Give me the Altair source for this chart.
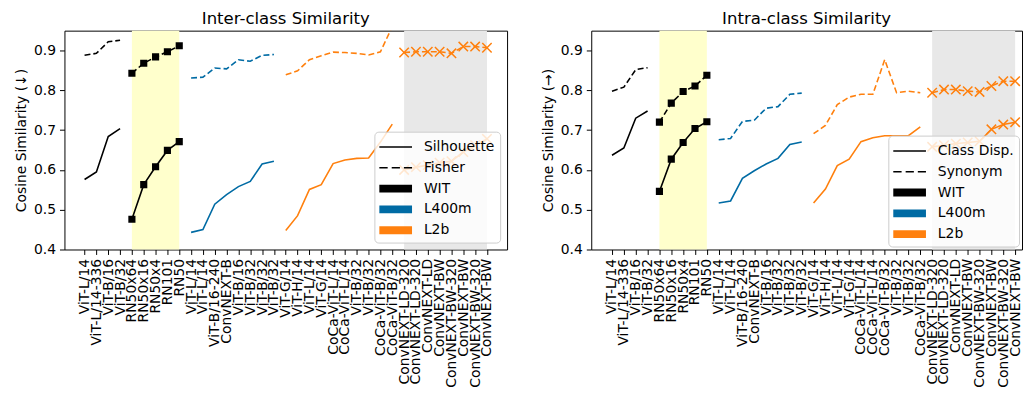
import json
import altair as alt
import pandas as pd

FONT = "DejaVu Sans"
BLUE = "#006BA4"
ORANGE = "#FF800E"

labels_inter = [
    "ViT-L/14", "ViT-L/14-336", "ViT-B/16", "ViT-B/32",
    "RN50x64", "RN50x16", "RN50x4", "RN101", "RN50",
    "ViT-L/14", "ViT-L/14", "ViT-B/16-240", "ConvNEXT-B", "ViT-B/16", "ViT-B/32", "ViT-B/32", "ViT-B/32",
    "ViT-G/14", "ViT-H/14", "ViT-L/14", "ViT-G/14", "CoCa-ViT-L/14", "CoCa-ViT-L/14",
    "ViT-B/32", "ViT-B/32", "CoCa-ViT-B/32", "CoCa-ViT-B/32",
    "ConvNEXT-LD-320", "ConvNEXT-LD-320", "ConvNEXT-LD", "ConvNEXT-BW", "ConvNEXT-BW-320",
    "ConvNEXT-BW", "ConvNEXT-BW-320", "ConvNEXT-BW",
]
labels_intra = [
    "ViT-L/14", "ViT-L/14-336", "ViT-B/16", "ViT-B/32",
    "RN50x64", "RN50x16", "RN50x4", "RN101", "RN50",
    "ViT-L/14", "ViT-L/14", "ViT-B/16-240", "ConvNEXT-B", "ViT-B/16", "ViT-B/32", "ViT-B/32", "ViT-B/32",
    "ViT-G/14", "ViT-H/14", "ViT-L/14", "ViT-G/14", "CoCa-ViT-L/14", "CoCa-ViT-L/14",
    "CoCa-ViT-B/32", "ViT-B/32", "ViT-B/32", "CoCa-ViT-B/32",
    "ConvNEXT-LD-320", "ConvNEXT-LD-320", "ConvNEXT-LD", "ConvNEXT-BW", "ConvNEXT-BW-320",
    "ConvNEXT-BW", "ConvNEXT-BW-320", "ConvNEXT-BW",
]

inter_silhouette = [
    0.576, 0.595, 0.684, 0.704,
    0.476, 0.563, 0.608, 0.649, 0.671,
    0.443, 0.450, 0.514, 0.538, 0.558, 0.571, 0.615, 0.622,
    0.448, 0.485, 0.551, 0.563, 0.616, 0.625, 0.629, 0.630, 0.670, 0.715,
    0.600, 0.607, 0.612, 0.618, 0.622, 0.645, 0.662, 0.678,
]
inter_fisher = [
    0.888, 0.893, 0.922, 0.926,
    0.843, 0.868, 0.884, 0.897, 0.912,
    0.831, 0.833, 0.856, 0.854, 0.877, 0.873, 0.888, 0.890,
    0.839, 0.849, 0.877, 0.887, 0.896, 0.895, 0.893, 0.889, 0.897, 0.960,
    0.895, 0.897, 0.897, 0.897, 0.893, 0.910, 0.910, 0.907,
]
intra_class_disp = [
    0.637, 0.655, 0.730, 0.748,
    0.546, 0.627, 0.669, 0.704, 0.721,
    0.517, 0.522, 0.579, 0.598, 0.615, 0.629, 0.664, 0.670,
    0.517, 0.552, 0.611, 0.627, 0.671, 0.681, 0.686, 0.686, 0.686, 0.708,
    0.658, 0.662, 0.666, 0.669, 0.672, 0.702, 0.714, 0.720,
]
intra_synonym = [
    0.798, 0.808, 0.852, 0.857,
    0.720, 0.768, 0.797, 0.811, 0.838,
    0.676, 0.679, 0.722, 0.725, 0.755, 0.759, 0.790, 0.793,
    0.691, 0.712, 0.764, 0.783, 0.790, 0.790, 0.877, 0.794, 0.798, 0.794,
    0.794, 0.802, 0.802, 0.798, 0.796, 0.811, 0.823, 0.823,
]

datasets = ["WIT"] * 9 + ["L400m"] * 8 + ["L2b"] * 18
groups = ["WIT-a"] * 4 + ["WIT-b"] * 5 + ["L400m"] * 8 + ["L2b-a"] * 10 + ["L2b-b"] * 8
band_start = [4, 27]
band_end = [8, 34]
dataset_names = ["WIT", "L400m", "L2b"]

y_ticks = [0.4, 0.5, 0.6, 0.7, 0.8, 0.9]

# legend handle shapes (unit-square paths, handle ~33px wide at symbolSize 441)
def hbar(x0, x1, half):
    return f"M{x0},{-half}H{x1}V{half}H{x0}Z"

THIN = 0.075
THICK = 0.38
solid_path = hbar(-1, 2.143, THIN)
dash_path = hbar(-1, -0.2, THIN) + hbar(0.19, 0.98, THIN) + hbar(1.36, 2.143, THIN)
thick_path = hbar(-1, 2.143, THICK)
cross_path = "M-1,-1L1,1M-1,1L1,-1"


def panel(title, labels, solid_vals, dashed_vals, solid_name, dashed_name, ytitle, width, xdomain, legend_offset):
    rows = []
    for metric, vals in ((solid_name, solid_vals), (dashed_name, dashed_vals)):
        for i, v in enumerate(vals):
            rows.append(dict(idx=i, val=v, metric=metric, dataset=datasets[i], group=groups[i]))
    df = pd.DataFrame(rows)

    xscale = alt.Scale(domain=xdomain, nice=False, zero=False)
    xaxis = alt.Axis(
        values=list(range(len(labels))),
        labelExpr=json.dumps(labels) + "[datum.value]",
        labelAngle=-90, title=None, grid=False, domain=False,
        labelOverlap=False, labelFlush=False, labelBound=False,
    )
    yscale = alt.Scale(domain=[0.4, 0.95], nice=False, zero=False)
    yaxis = alt.Axis(values=y_ticks, format=".1f", title=ytitle, grid=False, domain=False)
    x = alt.X("idx:Q", scale=xscale, axis=xaxis)
    y = alt.Y("val:Q", scale=yscale, axis=yaxis)

    bands_df = pd.DataFrame({"start": band_start, "end": band_end})
    layers = []
    for k, col in enumerate(["#ffffcc", "#e8e8e8"]):
        layers.append(
            alt.Chart(bands_df.iloc[[k]]).mark_rect(fill=col, opacity=1).encode(
                x=alt.X("start:Q", scale=xscale, axis=xaxis), x2="end:Q"
            )
        )

    for ds, col in zip(dataset_names, ["black", BLUE, ORANGE]):
        for metric, dashed in ((solid_name, False), (dashed_name, True)):
            props = dict(clip=True, color=col, strokeWidth=1.6)
            if dashed:
                props["strokeDash"] = [6, 3]
            layers.append(
                alt.Chart(df)
                .transform_filter((alt.datum.dataset == ds) & (alt.datum.metric == metric))
                .mark_line(**props)
                .encode(x=x, y=y, detail="group:N")
            )

    layers.append(
        alt.Chart(df).transform_filter(alt.datum.group == "WIT-b")
        .mark_point(shape="square", filled=True, size=52, color="black", opacity=1, clip=True)
        .encode(x=x, y=y)
    )
    layers.append(
        alt.Chart(df).transform_filter(alt.datum.group == "L2b-b")
        .mark_point(shape=cross_path, filled=False, size=90, color=ORANGE, strokeWidth=1.5, opacity=1, clip=True)
        .encode(x=x, y=y)
    )

    keys = [solid_name, dashed_name] + dataset_names
    leg_df = pd.DataFrame({"key": keys, "idx": [0] * 5, "val": [0.5] * 5})
    layers.append(
        alt.Chart(leg_df).transform_filter("false")
        .mark_point(filled=True, opacity=1)
        .encode(
            x=x, y=y,
            color=alt.Color("key:N", scale=alt.Scale(domain=keys, range=["black", "black", "black", BLUE, ORANGE]),
                            legend=alt.Legend(title=None, offset=legend_offset)),
            shape=alt.Shape("key:N", scale=alt.Scale(domain=keys, range=[solid_path, dash_path, thick_path, thick_path, thick_path]),
                            legend=alt.Legend(title=None, offset=legend_offset)),
        )
    )

    return alt.layer(*layers).properties(
        width=width, height=221,
        title=alt.TitleParams(title, fontSize=16.7, fontWeight="normal", font=FONT, color="black", offset=3),
    )


left = panel("Inter-class Similarity", labels_inter, inter_silhouette, inter_fisher,
             "Silhouette", "Fisher", "Cosine Similarity (\u2193)", 447, [-1.7, 35.7], 7)
right = panel("Intra-class Similarity", labels_intra, intra_class_disp, intra_synonym,
              "Class Disp.", "Synonym", "Cosine Similarity (\u2192)", 435, [-1.75, 34.58], 3)

chart = (
    alt.hconcat(left, right, spacing=33)
    .resolve_scale(color="independent", shape="independent")
    .resolve_legend(color="independent", shape="independent")
    .properties(padding={"left": 6, "top": 0, "right": 0, "bottom": 0})
    .configure(font=FONT)
    .configure_view(stroke="black", strokeWidth=1)
    .configure_axis(
        labelFont=FONT, labelFontSize=14, labelColor="black",
        titleFont=FONT, titleFontSize=14, titleFontWeight="normal", titleColor="black",
        tickColor="black", tickSize=5, tickWidth=1, labelPadding=4, titlePadding=5,
    )
    .configure_legend(
        orient="bottom-right", padding=5,
        fillColor="rgba(255,255,255,0.8)", strokeColor="#cccccc", cornerRadius=4,
        symbolSize=441, symbolStrokeWidth=0, symbolOpacity=1,
        labelFont=FONT, labelFontSize=14, labelColor="black", labelOffset=24,
        rowPadding=3,
    )
)

chart.save("out.html", embed_options={"renderer": "svg", "actions": False})
